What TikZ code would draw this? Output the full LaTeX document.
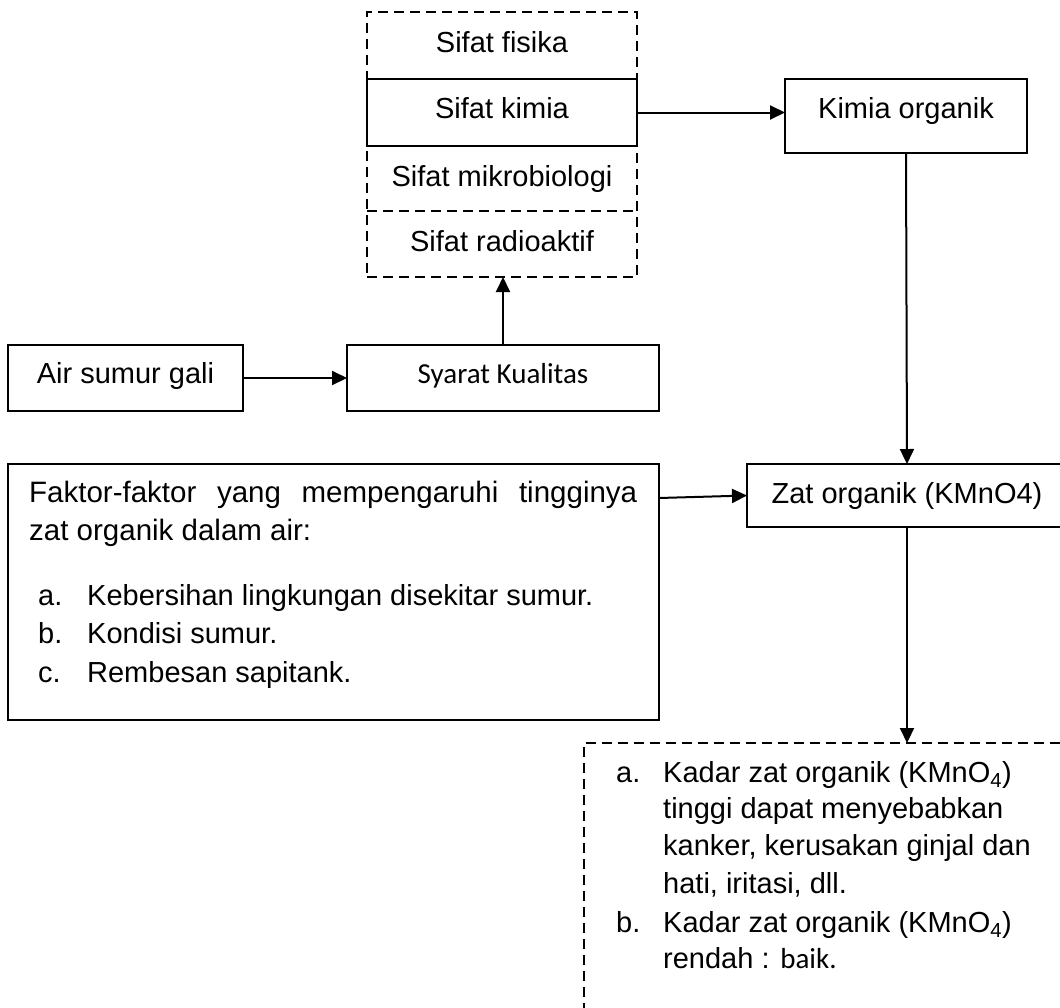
\documentclass[tikz,border=0pt]{standalone}
\usepackage{fontspec}
\setmainfont{Liberation Sans}
\newfontfamily\calibri{Carlito}
\usetikzlibrary{arrows.meta}
\begin{document}
\begin{tikzpicture}[x=1pt,y=-1pt,
  box/.style={draw, line width=2pt, inner sep=0pt, outer sep=0pt, anchor=north west},
  dbox/.style={box, dash pattern=on 10pt off 6pt},
  lbl/.style={anchor=base, inner sep=0pt, font=\fontsize{29}{37}\selectfont},
  lblw/.style={anchor=base west, inner sep=0pt, font=\fontsize{29}{37}\selectfont},
  arr/.style={line width=2pt, -{Triangle[length=15pt,width=14pt]}}]
\useasboundingbox (0,0) rectangle (1060,1007);
\fill[white] (0,0) rectangle (1060,1007);
\clip (0,0) rectangle (1060,1007);

% group of properties
\node[dbox, minimum width=270pt, minimum height=265pt] (sifat) at (367,12) {};
\node[box, fill=white, minimum width=270pt, minimum height=67pt] (kimia) at (367,79) {};
\coordinate (dl) at (367,211);
\coordinate (dr) at (637,211);
\draw[line width=2pt, dash pattern=on 10pt off 6pt] (dl) -- (dr);
\node[lbl] (tfisika) at (502,52) {Sifat fisika};
\node[lbl] (tkimia) at (502,118) {Sifat kimia};
\node[lbl] (tmikro) at (502,186) {Sifat mikrobiologi};
\node[lbl] (tradio) at (502,251) {Sifat radioaktif};

% Kimia organik
\node[box, minimum width=242pt, minimum height=74pt] (korg) at (785,79) {};
\node[lbl] (tkorg) at (906,118) {Kimia organik};

% Air sumur gali and Syarat Kualitas
\node[box, minimum width=235pt, minimum height=66pt] (air) at (8,345) {};
\node[lbl] (tair) at (125.5,383) {Air sumur gali};
\node[box, minimum width=312pt, minimum height=66pt] (syarat) at (347,345) {};
\node[lbl, font=\calibri\fontsize{29}{37}\selectfont] (tsyarat) at (503,383) {Syarat Kualitas};

% Factors box
\node[box, minimum width=651pt, minimum height=256pt] (factor) at (8,464) {};
\node[lblw, font=\fontsize{29.5}{38}\selectfont] (tfactor) at (29,502)
  {\parbox[t]{608pt}{Faktor-faktor yang mempengaruhi tingginya\linebreak zat organik dalam air:}};
\node[lblw] (fa) at (38,605) {\makebox[49pt][l]{a.}Kebersihan lingkungan disekitar sumur.};
\node[lblw] (fb) at (38,643) {\makebox[49pt][l]{b.}Kondisi sumur.};
\node[lblw] (fc) at (38,682) {\makebox[49pt][l]{c.}Rembesan sapitank.};

% Zat organik
\node[box, minimum width=320pt, minimum height=63pt] (zat) at (747,464) {};
\node[lbl] (tzat) at (907,503) {Zat organik (KMnO4)};

% bottom dashed box
\node[dbox, minimum width=646pt, minimum height=400pt] (effect) at (584,743) {};
\node[lblw] (ea1) at (616,782) {\makebox[47pt][l]{a.}Kadar zat organik (KMnO\textsubscript{4})};
\node[lblw] (ea2) at (663,818) {tinggi dapat menyebabkan};
\node[lblw] (ea3) at (663,855) {kanker, kerusakan ginjal dan};
\node[lblw] (ea4) at (663,893) {hati, iritasi, dll.};
\node[lblw] (eb1) at (616,932) {\makebox[47pt][l]{b.}Kadar zat organik (KMnO\textsubscript{4})};
\node[lblw] (eb2) at (663,968) {rendah : {\calibri baik.}};

% connectors
\draw[arr] (kimia.east) -- (kimia.east -| korg.west);
\draw[arr] (korg.south) -- (zat.north);
\draw[arr] (air.east) -- (syarat.west);
\draw[arr] (syarat.north) -- (syarat.north |- sifat.south);
\draw[arr] ([yshift=-34pt]factor.north east) -- (zat.west);
\draw[arr] (zat.south) -- (effect.north);
\end{tikzpicture}
\end{document}
